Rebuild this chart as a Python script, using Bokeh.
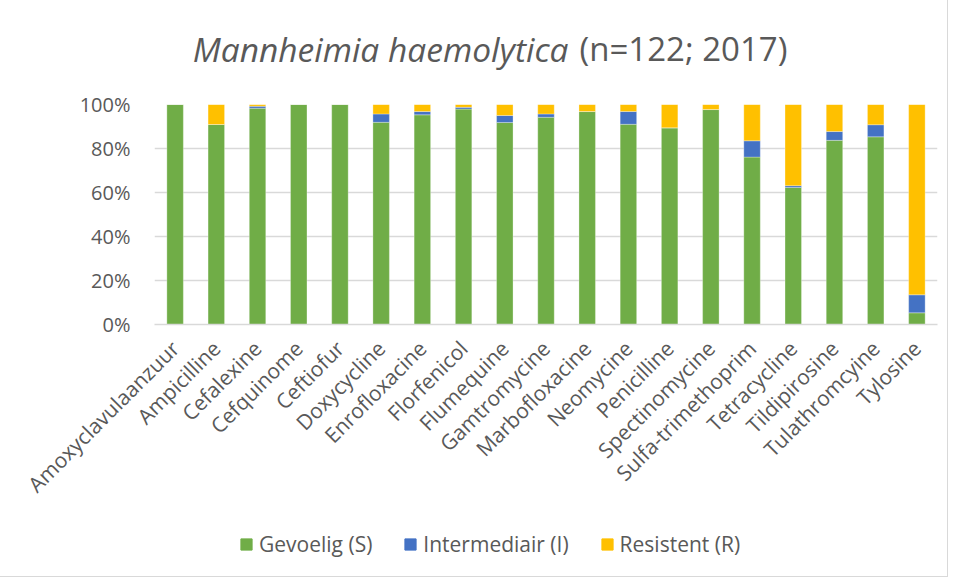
import math
from bokeh.plotting import figure
from bokeh.layouts import column
from bokeh.models import (ColumnDataSource, Range1d, PrintfTickFormatter, Label, Legend,
                          LegendItem, FixedTicker)
from bokeh.embed import file_html
from bokeh.resources import INLINE

categories = ["Amoxyclavulaanzuur", "Ampicilline", "Cefalexine", "Cefquinome", "Ceftiofur",
              "Doxycycline", "Enrofloxacine", "Florfenicol", "Flumequine", "Gamtromycine",
              "Marbofloxacine", "Neomycine", "Penicilline", "Spectinomycine", "Sulfa-trimethoprim",
              "Tetracycline", "Tildipirosine", "Tulathromcyine", "Tylosine"]
gevoelig = [100, 90.9, 98.3, 100, 100, 91.9, 95.3, 97.9, 91.8, 94.2, 96.8, 91.0, 89.4, 97.7, 76.1, 62.3, 83.7, 85.3, 5.3]
intermediair = [0, 0, 0.9, 0, 0, 3.8, 1.5, 0.8, 3.2, 1.5, 0, 5.8, 0, 0, 7.4, 0.8, 4.0, 5.5, 8.2]
resistent = [0, 9.1, 0.8, 0, 0, 4.3, 3.2, 1.3, 5.0, 4.3, 3.2, 3.2, 10.6, 2.3, 16.5, 36.9, 12.3, 9.2, 86.5]
series = ["Gevoelig (S)", "Intermediair (I)", "Resistent (R)"]
colors = ["#70AD47", "#4472C4", "#FFC000"]
y_ticks = [0, 20, 40, 60, 80, 100]
title_species = "Mannheimia haemolytica"
title_rest = "(n=122; 2017)"

FONT = "Open Sans"
GREY = "#595959"
W = 947
FW = 783

source = ColumnDataSource(dict(cat=categories, S=gevoelig, I=intermediair, R=resistent))


def blank(height, **kw):
    f = figure(width=W, height=height, output_backend="svg", toolbar_location=None,
               min_border=0, x_axis_location=None, y_axis_location=None, **kw)
    f.grid.visible = False
    f.outline_line_color = None
    return f


# --- title (its frame is aligned with the chart's frame) ---
tf = blank(89, x_range=Range1d(0, FW), y_range=Range1d(0, 89))
tf.add_layout(Label(x=414, y=41, text=title_species, text_font=FONT, text_font_style="italic",
                    text_font_size="33.5px", text_color=GREY, text_align="right",
                    text_baseline="alphabetic"))
tf.add_layout(Label(x=425, y=41, text=title_rest, text_font=FONT, text_font_size="33px",
                    text_color=GREY, text_align="left", text_baseline="alphabetic"))

# --- main chart ---
p = figure(x_range=categories, y_range=Range1d(0, 100), width=W, height=425,
           frame_width=FW, frame_height=220,
           output_backend="svg", toolbar_location=None,
           min_border_left=154, min_border_right=10, min_border_top=15, min_border_bottom=190)

p.vbar_stack(["S", "I", "R"], x="cat", width=0.4, color=colors, source=source,
             line_color="white", line_width=0.3)

p.outline_line_color = None
p.xgrid.grid_line_color = None
p.ygrid.grid_line_color = "#d9d9d9"
p.ygrid.grid_line_width = 1.3
p.yaxis.ticker = FixedTicker(ticks=y_ticks)
p.yaxis.formatter = PrintfTickFormatter(format="%d%%")
p.yaxis.axis_line_color = None
p.yaxis.major_tick_line_color = None
p.yaxis.minor_tick_line_color = None
p.yaxis.major_tick_out = 0
p.yaxis.major_label_text_font = FONT
p.yaxis.major_label_text_font_size = "20px"
p.yaxis.major_label_text_color = GREY
p.yaxis.major_label_standoff = 24

p.xaxis.axis_line_color = "#d9d9d9"
p.xaxis.axis_line_width = 1.3
p.xaxis.major_tick_line_color = None
p.xaxis.minor_tick_line_color = None
p.xaxis.major_tick_out = 0
p.xaxis.major_label_orientation = math.pi / 4
p.xaxis.major_label_text_font = FONT
p.xaxis.major_label_text_font_size = "21px"
p.xaxis.major_label_text_color = GREY
p.xaxis.major_label_standoff = 20
p.x_range.range_padding = 0.0

# --- legend (bars drawn out of view; only the legend swatches show) ---
lf = blank(62, x_range=categories, y_range=Range1d(200, 300))
lrs = lf.vbar_stack(["S", "I", "R"], x="cat", width=0.4, color=colors, source=source)
legend = Legend(items=[LegendItem(label=s, renderers=[r]) for s, r in zip(series, lrs)],
                orientation="horizontal", location=(85, 18), padding=0, margin=0,
                label_text_font=FONT, label_text_font_size="21px", label_text_color=GREY,
                glyph_width=14, glyph_height=14, label_standoff=6, spacing=31,
                border_line_color=None, background_fill_alpha=0)
lf.add_layout(legend, "center")

layout = column(tf, p, lf, spacing=0)
layout.styles = {"outline": "1px solid #d9d9d9"}

open("out.html", "w").write(file_html(layout, INLINE))
